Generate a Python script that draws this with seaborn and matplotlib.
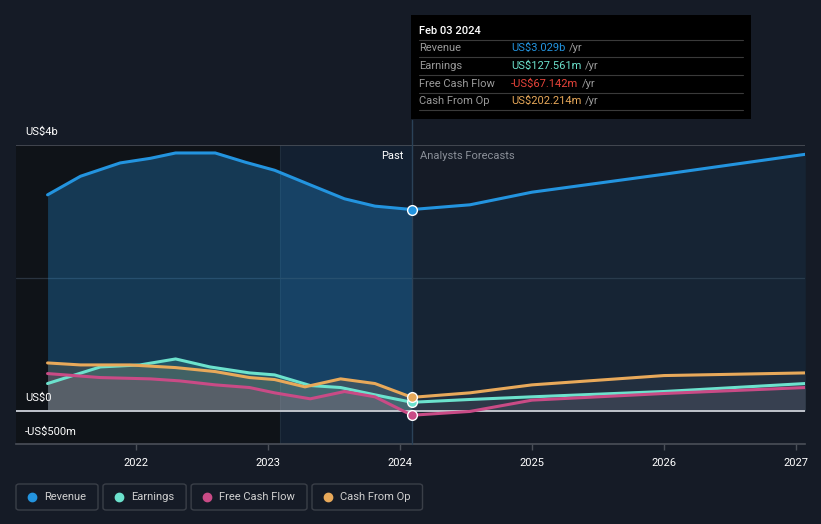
import numpy as np
import pandas as pd
import matplotlib
matplotlib.use("Agg")
import matplotlib.pyplot as plt
import seaborn as sns
from matplotlib.lines import Line2D
from matplotlib.patches import Rectangle, FancyBboxPatch

# ---- data (US$ billions, x in decimal years) ----
rev_x = [2021.33, 2021.58, 2021.88, 2022.11, 2022.30, 2022.60, 2022.83, 2023.05, 2023.32, 2023.58, 2023.81, 2024.09,
         2024.53, 2025.0, 2026.0, 2027.07]
rev_y = [3.25, 3.53, 3.73, 3.80, 3.88, 3.88, 3.74, 3.62, 3.40, 3.19, 3.08, 3.029,
         3.10, 3.29, 3.56, 3.86]

earn_x = [2021.33, 2021.73, 2022.03, 2022.30, 2022.56, 2022.86, 2023.05, 2023.32, 2023.55, 2023.81, 2024.09,
          2024.53, 2025.0, 2026.0, 2027.07]
earn_y = [0.41, 0.66, 0.69, 0.78, 0.66, 0.57, 0.54, 0.38, 0.35, 0.24, 0.128,
          0.17, 0.21, 0.29, 0.41]

fcf_x = [2021.33, 2021.73, 2022.11, 2022.33, 2022.60, 2022.86, 2023.05, 2023.32, 2023.58, 2023.81, 2024.09,
         2024.53, 2025.0, 2026.0, 2027.07]
fcf_y = [0.56, 0.50, 0.48, 0.45, 0.39, 0.35, 0.27, 0.18, 0.29, 0.21, -0.067,
         -0.01, 0.16, 0.26, 0.35]

cfo_x = [2021.33, 2021.58, 2021.95, 2022.30, 2022.60, 2022.86, 2023.05, 2023.28, 2023.55, 2023.81, 2024.09,
         2024.53, 2025.0, 2026.0, 2027.07]
cfo_y = [0.72, 0.69, 0.69, 0.65, 0.59, 0.50, 0.47, 0.36, 0.48, 0.41, 0.202,
         0.27, 0.39, 0.53, 0.57]

series_names = ["Revenue", "Earnings", "Free Cash Flow", "Cash From Op"]
series_colors = ["#2394df", "#6ce2cd", "#c94b86", "#e8a95a"]
tooltip_values = ["US$3.029b", "US$127.561m", "-US$67.142m", "US$202.214m"]
tooltip_colors = ["#2394df", "#6ce2cd", "#e8443a", "#e8a95a"]
year_ticks = [2022, 2023, 2024, 2025, 2026, 2027]
now_x = 2024.09
hl_start = 2023.09

BG = "#151b26"
W, H = 821, 524
FS = 8

sns.set_theme(style="dark")
plt.rcParams["font.family"] = ["Roboto", "DejaVu Sans"]

fig = plt.figure(figsize=(W / 100, H / 100), dpi=100, facecolor=BG)
ax = fig.add_axes([16 / W, 1 - 444 / H, (805 - 16) / W, (444 - 145) / H])
ax.set_facecolor(BG)
x0 = 2022 - 120 / 132
x1 = 2022 + (805 - 136) / 132
ax.set_xlim(x0, x1)
ax.set_ylim(-0.5, 4.0)

# background regions
ax.axvspan(x0, hl_start, color="#0f1318", zorder=0, lw=0)
ax.axvspan(hl_start, now_x, color="#132539", alpha=0.6, zorder=0, lw=0)
ax.axvline(hl_start, color="#1f2d3c", lw=0.8, zorder=1)

# grid lines
ax.axhline(4.0, color="#4a4f58", lw=1.2, zorder=1)
ax.axhline(2.0, color="#2a3440", lw=0.9, zorder=1)

data = {
    "Revenue": (rev_x, rev_y),
    "Earnings": (earn_x, earn_y),
    "Free Cash Flow": (fcf_x, fcf_y),
    "Cash From Op": (cfo_x, cfo_y),
}

# fills
for name, col in zip(series_names, series_colors):
    xs, ys = np.array(data[name][0]), np.array(data[name][1])
    past = xs <= now_x
    fut = xs >= now_x
    if name == "Revenue":
        ax.fill_between(xs[past], ys[past], 0, color=col, alpha=0.30, lw=0, zorder=2)
        ax.fill_between(xs[fut], ys[fut], 0, color=col, alpha=0.08, lw=0, zorder=2)
    else:
        ax.fill_between(xs[past], ys[past], 0, color=col, alpha=0.16, lw=0, zorder=3)
        ax.fill_between(xs[fut], ys[fut], 0, color="#9090a0", alpha=0.10, lw=0, zorder=3)

ax.axhline(0, color="#c0c4cc", lw=1.4, zorder=4)

# lines
for name, col in zip(series_names, series_colors):
    df = pd.DataFrame({"x": data[name][0], "y": data[name][1]})
    sns.lineplot(data=df, x="x", y="y", color=col, lw=2.2, ax=ax, zorder=5,
                 sort=False, estimator=None)
    idx = data[name][0].index(now_x)
    ax.plot(now_x, data[name][1][idx], "o", ms=7, mfc=col, mec="white", mew=1.0, zorder=7)

ax.axvline(now_x, ymin=0, ymax=1 + 25 / 299, color="#2b4258", lw=1, clip_on=False, zorder=6)

# y labels inside
lab_tr = ax.get_yaxis_transform()
for val, txt in [(4.195, "US$4b"), (0.195, "US$0"), (-0.316, "-US$500m")]:
    ax.text(9 / (805 - 16), val, txt, transform=lab_tr, color="white", fontsize=FS,
            va="center", ha="left", zorder=8)

ax.text(now_x - 8 / 132, 3.835, "Past", color="white", fontsize=FS, ha="right", va="center", zorder=8)
ax.text(now_x + 8 / 132, 3.835, "Analysts Forecasts", color="#8a8f98", fontsize=FS,
        ha="left", va="center", zorder=8)

# axes styling
ax.set_xticks(year_ticks)
ax.set_xticklabels([str(y) for y in year_ticks])
ax.set_yticks([])
ax.set_xlabel("")
ax.set_ylabel("")
ax.tick_params(axis="x", colors="#4a4f58", labelcolor="white", labelsize=FS,
               length=4, width=1, pad=6, bottom=True, direction="out")
for s in ["top", "right", "left"]:
    ax.spines[s].set_visible(False)
ax.spines["bottom"].set_color("#4a4f58")
ax.spines["bottom"].set_linewidth(1.2)
ax.grid(False)

# tooltip
fig.patches.append(Rectangle((411 / W, 1 - 119 / H), 340 / W, 104 / H, transform=fig.transFigure,
                             facecolor="black", edgecolor="none", zorder=10))
fig.text(419 / W, 1 - 31 / H, "Feb 03 2024", color="white", fontsize=FS, va="center",
         fontweight="medium", zorder=11)
row_y = [48, 66, 84, 101]
for y in [40, 57, 75, 93, 110]:
    fig.add_artist(Line2D([419 / W, 743 / W], [1 - y / H, 1 - y / H], color="#3a3a3a", lw=0.8, zorder=11))
fig.canvas.draw()
for name, val, vcol, y in zip(series_names, tooltip_values, tooltip_colors, row_y):
    fig.text(419 / W, 1 - y / H, name, color="#9a9a9a", fontsize=FS, va="center", zorder=11)
    t = fig.text(511 / W, 1 - y / H, val, color=vcol, fontsize=FS, va="center", zorder=11)
    bb = t.get_window_extent(renderer=fig.canvas.get_renderer())
    fig.text((bb.x1 + 4) / W, 1 - y / H, "/yr", color="#9a9a9a", fontsize=FS, va="center", zorder=11)

# legend boxes (one rounded box per series)
renderer = fig.canvas.get_renderer()
lx = 16
ly_top, ly_bot = 484, 510
ly_mid = (ly_top + ly_bot) / 2
for name, col in zip(series_names, series_colors):
    fig.add_artist(Line2D([(lx + 16) / W], [1 - ly_mid / H], marker="o", ls="none", ms=6,
                          mfc=col, mec=col, zorder=11))
    t = fig.text((lx + 28) / W, 1 - ly_mid / H, name, color="#d0d0d0", fontsize=FS,
                 va="center", ha="left", zorder=11)
    bb = t.get_window_extent(renderer=renderer)
    rx = bb.x1 + 12
    box = FancyBboxPatch((lx / W, 1 - ly_bot / H), (rx - lx) / W, (ly_bot - ly_top) / H,
                         boxstyle="round,pad=0,rounding_size=0.004", transform=fig.transFigure,
                         facecolor=BG, edgecolor="#3a3f48", lw=1.0, zorder=10)
    fig.patches.append(box)
    lx = rx + 5

fig.savefig("out.png", dpi=100, facecolor=BG)
